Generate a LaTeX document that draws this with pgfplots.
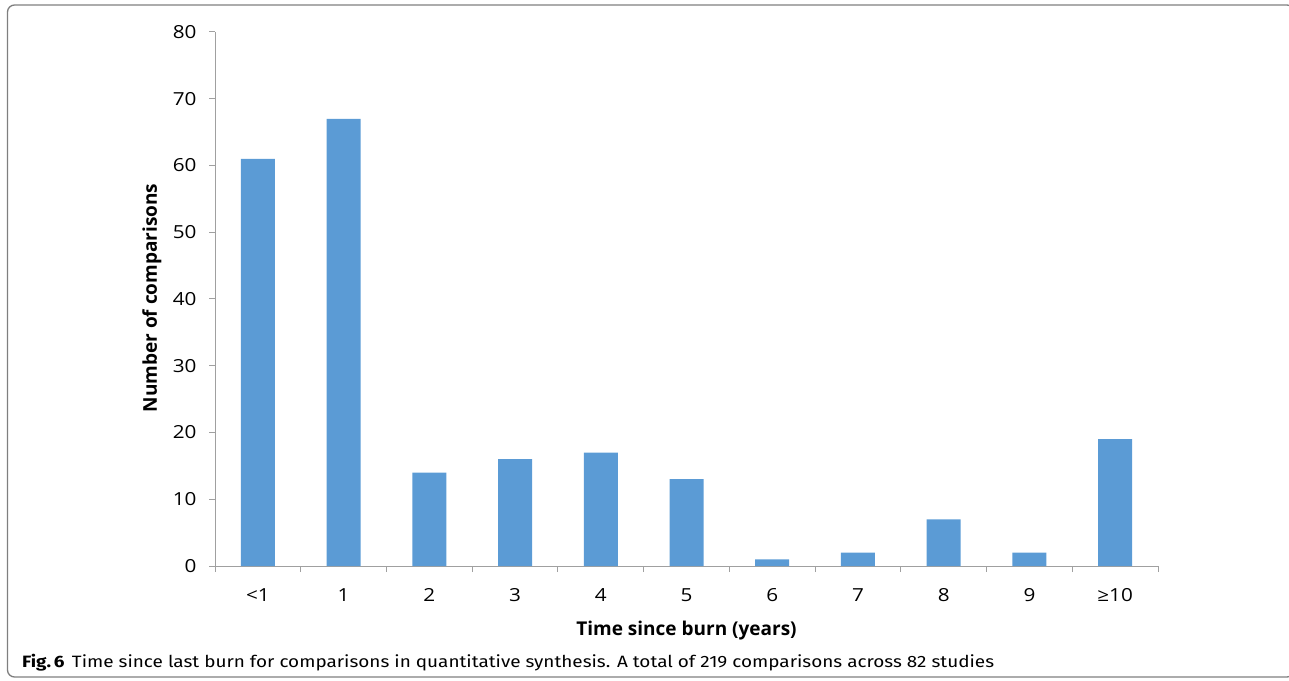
\documentclass[border=0pt]{standalone}
\usepackage{pgfplots}
\pgfplotsset{compat=1.18}
\usepackage{fontspec}
\setmainfont{Open Sans}
\newfontfamily\tickfont[FakeStretch=1.15]{Open Sans}
\newfontfamily\titlefont{Open Sans}
\newfontfamily\capfont[FakeStretch=1.155]{Fira Sans}
\definecolor{barblue}{HTML}{5B9BD5}
\definecolor{axisgray}{HTML}{A0A0A0}
\definecolor{framegray}{HTML}{7F7F7F}
\begin{document}
\begin{tikzpicture}
\path[use as bounding box] (0bp,0bp) rectangle (1289bp,681bp);
\begin{scope}
\clip (0bp,0bp) rectangle (1289bp,681bp);
\draw[framegray, line width=1.3bp, rounded corners=7bp] (7.5bp,4bp) rectangle (1294bp,676bp);
\end{scope}
\begin{axis}[
  at={(215bp,115bp)}, anchor=south west,
  scale only axis, width=943bp, height=534bp,
  xmin=-0.5, xmax=10.5, ymin=0, ymax=80,
  axis x line*=bottom, axis y line*=left,
  axis line style={draw=axisgray, line width=1bp},
  ytick={0,10,...,80},
  xtick={0,...,10},
  xticklabels={<1,1,2,3,4,5,6,7,8,9,≥10},
  minor xtick={-0.5,0.5,...,10.5},
  tick align=outside,
  major tick length=6bp,
  minor tick length=6bp,
  major x tick style={draw=none},
  minor x tick style={draw=axisgray, line width=1bp},
  major y tick style={draw=axisgray, line width=1bp},
  /pgf/number format/assume math mode=true,
  tick label style={font=\tickfont\fontsize{18bp}{20bp}\selectfont, text=black},
  yticklabel style={xshift=-9bp},
  xticklabel style={yshift=-13bp},
  xlabel={Time since burn (years)},
  ylabel={Number of comparisons},
  x label style={at={(axis description cs:0.5,-0.1217)}, anchor=center, font=\titlefont\bfseries\fontsize{19bp}{22bp}\selectfont},
  y label style={at={(axis description cs:-0.0668,0.502)}, anchor=center, rotate=0, font=\titlefont\bfseries\fontsize{19bp}{22bp}\selectfont},
  clip=false,
]
\addplot[ybar, bar width=34bp, fill=barblue, draw=none] coordinates {
  (0,61) (1,67) (2,14) (3,16) (4,17) (5,13) (6,1) (7,2) (8,7) (9,2) (10,19)
};
\end{axis}
\node[anchor=base west, inner sep=0pt] at (22bp,14bp) {\capfont\fontsize{16.4bp}{19bp}\selectfont\textbf{Fig.\,6}\hspace{0.45em}Time since last burn for comparisons in quantitative synthesis. A total of 219 comparisons across 82 studies};
\end{tikzpicture}
\end{document}
